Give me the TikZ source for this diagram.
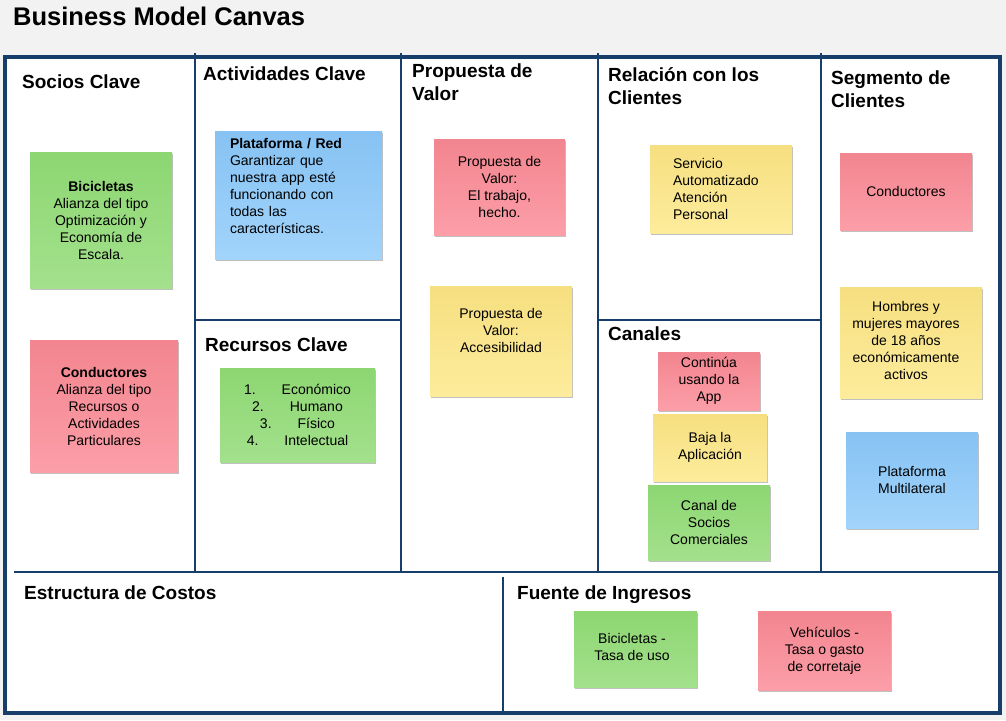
\documentclass[tikz,border=0pt]{standalone}
\usepackage{fontspec}
\setmainfont{Liberation Sans}
\usetikzlibrary{shadows}
\definecolor{frame}{HTML}{173E6B}
\definecolor{pageg}{HTML}{F2F2F2}
\definecolor{pinkT}{HTML}{F2858F}
\definecolor{pinkB}{HTML}{FC9EA8}
\definecolor{greenT}{HTML}{8DD672}
\definecolor{greenB}{HTML}{A3E18C}
\definecolor{yellowT}{HTML}{F6DF80}
\definecolor{yellowB}{HTML}{FDEC9C}
\definecolor{blueT}{HTML}{86C2F3}
\definecolor{blueB}{HTML}{A2D4FB}
\tikzset{
  sect/.style={font=\fontsize{19}{23}\selectfont\bfseries, anchor=base west, inner sep=0pt, align=left},
  note/.style={inner sep=0pt, align=center, font=\fontsize{14}{17}\selectfont,
    drop shadow={shadow xshift=1.3pt, shadow yshift=-1.8pt, opacity=0.35, fill=black!70}},
  pinknote/.style={note, top color=pinkT, bottom color=pinkB},
  greennote/.style={note, top color=greenT, bottom color=greenB},
  yellownote/.style={note, top color=yellowT, bottom color=yellowB},
  bluenote/.style={note, top color=blueT, bottom color=blueB},
  grid/.style={draw=frame, line width=1.8pt},
}
\begin{document}
\begin{tikzpicture}[x=1pt, y=-1pt]
\useasboundingbox[fill=pageg] (0,0) rectangle (1006,720);
% canvas
\fill[white] (5,57) rectangle (1000,713);
\draw[grid] (195,53) -- (195,572);
\draw[grid] (401,53) -- (401,572);
\draw[grid] (598,53) -- (598,572);
\draw[grid] (821,53) -- (821,572);
\draw[grid] (195,320) -- (401,320);
\draw[grid] (598,320) -- (821,320);
\draw[grid] (14,572) -- (1000,572);
\draw[grid] (503,577) -- (503,713);
\draw[draw=frame, line width=3.5pt] (5,57) rectangle (1000,713);

% title
\node[anchor=base west, inner sep=0pt, font=\fontsize{25.5}{30}\selectfont\bfseries] (title) at (13,25) {Business Model Canvas};

% section titles
\node[sect] (socios) at (22,88) {Socios Clave};
\node[sect] (activ) at (203,80) {Actividades Clave};
\node[sect] (prop) at (412,100) {Propuesta de\\Valor};
\node[sect] (rel) at (608,104) {Relación con los\\Clientes};
\node[sect] (seg) at (831,107) {Segmento de\\Clientes};
\node[sect] (recur) at (205,351) {Recursos Clave};
\node[sect] (canal) at (608,340) {Canales};
\node[sect] (costos) at (24,599) {Estructura de Costos};
\node[sect] (ingresos) at (517,599) {Fuente de Ingresos};

% notes
\node[greennote, minimum width=142pt, minimum height=136pt, text depth=0pt] (n1) at (101,220)
  {\textbf{Bicicletas}\\Alianza del tipo\\Optimización y\\Economía de\\Escala.};
\node[pinknote, minimum width=148pt, minimum height=132pt] (n2) at (104,406)
  {\textbf{Conductores}\\Alianza del tipo\\Recursos o\\Actividades\\Particulares};
\node[bluenote, minimum width=167pt, minimum height=128pt, text width=137pt, inner xsep=15pt, align=left, text depth=104pt] (n3) at (298.5,195)
  {\textbf{Plataforma / Red}\\Garantizar que\\nuestra app esté\\funcionando con\\todas las\\características.};
\node[greennote, minimum width=155pt, minimum height=94pt] (n4) at (297.5,415)
  {1.\hspace{26pt}Económico\\2.\hspace{26pt}Humano\\3.\hspace{26pt}Físico\\4.\hspace{26pt}Intelectual};
\node[pinknote, minimum width=131pt, minimum height=96pt] (n5) at (499.5,187)
  {Propuesta de\\Valor:\\El trabajo,\\hecho.};
\node[yellownote, minimum width=142pt, minimum height=110pt, text depth=21pt] (n6) at (501,341)
  {Propuesta de\\Valor:\\Accesibilidad};
\node[yellownote, minimum width=142pt, minimum height=88pt, text width=96pt, inner xsep=23pt, align=left] (n7) at (721,189)
  {Servicio\\Automatizado\\Atención\\Personal};
\node[pinknote, minimum width=102pt, minimum height=58pt] (n8) at (709,381)
  {Continúa\\usando la\\App};
\node[yellownote, minimum width=114pt, minimum height=67pt] (n9) at (710,447.5)
  {Baja la\\Aplicación};
\node[greennote, minimum width=122pt, minimum height=75pt] (n10) at (709,522.5)
  {Canal de\\Socios\\Comerciales};
\node[pinknote, minimum width=132pt, minimum height=77pt] (n11) at (906,191.5)
  {Conductores};
\node[yellownote, minimum width=142pt, minimum height=111pt] (n12) at (911,342.5)
  {\hspace*{-10pt}\begin{tabular}{@{}c@{}}Hombres y\\mujeres mayores\\de 18 años\\económicamente\\activos\end{tabular}};
\node[bluenote, minimum width=132pt, minimum height=96pt] (n13) at (912,480)
  {Plataforma\\Multilateral};
\node[greennote, minimum width=123pt, minimum height=76pt] (n14) at (635.5,649)
  {\hspace*{-7pt}\begin{tabular}{@{}c@{}}Bicicletas -\\Tasa de uso\end{tabular}};
\node[pinknote, minimum width=133pt, minimum height=79pt] (n15) at (824.5,650.5)
  {Vehículos -\\Tasa o gasto\\de corretaje};
\end{tikzpicture}
\end{document}
